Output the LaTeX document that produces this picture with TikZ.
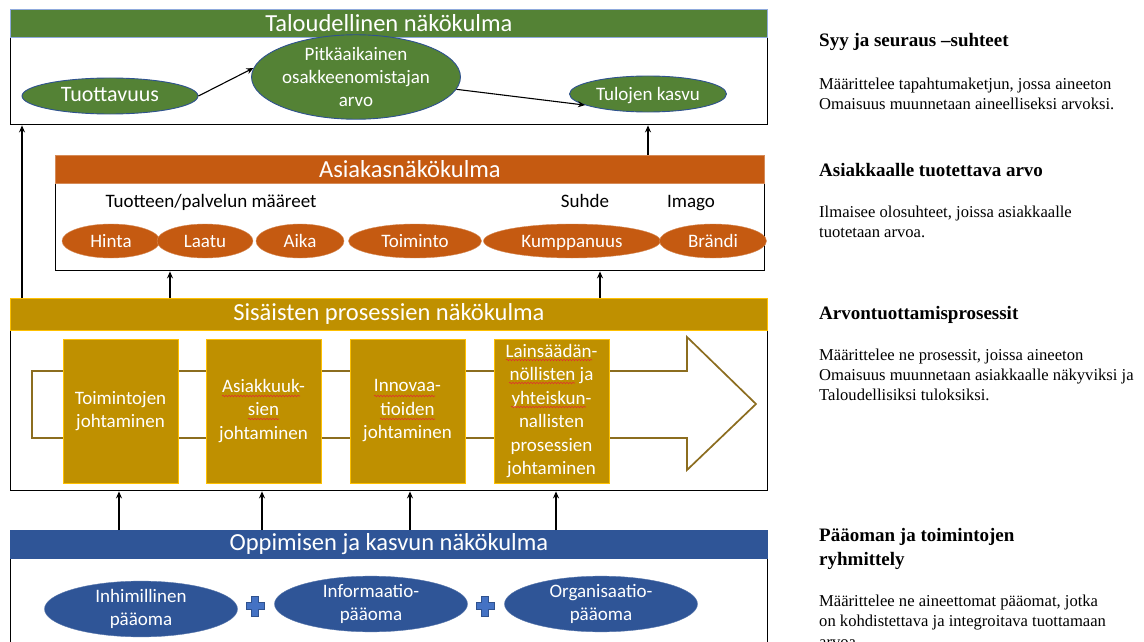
\documentclass[tikz,border=0pt]{standalone}
\usepackage{fontspec}
\setmainfont{Carlito}
\newfontfamily\notefont{Liberation Serif}
\usetikzlibrary{shapes.geometric,arrows.meta,decorations.pathmorphing}

\definecolor{finGreen}{HTML}{548235}
\definecolor{custOrange}{HTML}{C55A11}
\definecolor{procGold}{HTML}{BF9000}
\definecolor{learnBlue}{HTML}{2F5597}
\definecolor{hdrEdge}{HTML}{8FAADC}
\definecolor{ovalEdge}{HTML}{2F528F}
\definecolor{flowEdge}{HTML}{8C6D1F}
\definecolor{taskEdge}{HTML}{FFC000}
\definecolor{plusBlue}{HTML}{4472C4}
\definecolor{spellRed}{HTML}{E03030}

\tikzset{
  frame/.style={draw=black, line width=1.4pt, inner sep=0pt, anchor=north west},
  header/.style={draw=hdrEdge, line width=0.8pt, text=white, inner sep=0pt,
    anchor=north west, minimum width=757pt,
    font=\fontsize{24.5}{28}\selectfont},
  oval/.style={ellipse, inner sep=0pt, text=white, align=center,
    font=\fontsize{19}{23.2}\selectfont},
  oneline/.style={text height=17pt, text depth=4pt},
  greenoval/.style={oval, fill=finGreen, draw=ovalEdge, line width=0.9pt},
  orangeoval/.style={oval, oneline, fill=custOrange, draw=custOrange!70!white, line width=0.4pt,
    minimum height=34pt},
  blueoval/.style={oval, fill=learnBlue, draw=learnBlue!80!white, line width=0.4pt,
    minimum width=193pt, minimum height=54pt},
  taskbox/.style={fill=procGold, draw=taskEdge, line width=0.8pt, text=white,
    align=center, inner sep=0pt, minimum width=115pt, minimum height=144pt,
    font=\fontsize{19}{23.5}\selectfont},
  plain/.style={inner sep=0pt, anchor=base, font=\fontsize{19}{23}\selectfont},
  link/.style={-{Stealth[length=7pt,width=6pt]}, line width=1.1pt},
  squiggle/.style={draw=spellRed, line width=0.6pt,
    decorate, decoration={snake, amplitude=0.7pt, segment length=3pt}},
  notehead/.style={inner sep=0pt, anchor=base west, font=\notefont\bfseries\fontsize{19}{22}\selectfont},
  notetext/.style={inner sep=0pt, anchor=base west, font=\notefont\fontsize{16.6}{20}\selectfont},
}

\begin{document}
\begin{tikzpicture}[x=1pt, y=-1pt]
\useasboundingbox (0,0) rectangle (1144,642);
\fill[white] (0,0) rectangle (1144,642);

% ---------- Financial perspective ----------
\node[frame, minimum width=757pt, minimum height=115pt] (finBox) at (10,9) {};
\node[header, fill=finGreen, minimum height=28pt] (finHead) at (10,9) {Taloudellinen näkökulma};
\node[greenoval, minimum width=176pt, minimum height=36pt, text height=16pt, text depth=5pt,
      font=\fontsize{22}{26}\selectfont] (tuot) at (110,96) {Tuottavuus};
\node[greenoval, minimum width=203pt, minimum height=70pt] (pitka) at (356,77)
      {Pitkäaikainen\\osakkeenomistajan\\arvo};
\node[greenoval, oneline, minimum width=157pt, minimum height=36pt] (tulo) at (648,94) {Tulojen kasvu};
\draw[link] (tuot.east) -- (pitka.175);
\draw[link] (pitka.-7) -- (tulo.190);

% ---------- Customer perspective ----------
\node[frame, minimum width=709pt, minimum height=115pt] (custBox) at (55,155) {};
\node[header, fill=custOrange, draw=custOrange!70!white, minimum width=709pt,
      minimum height=28pt] (custHead) at (55,155) {Asiakasnäkökulma};
\node[plain] (attrLbl) at (211,207) {Tuotteen/palvelun määreet};
\node[plain] (relLbl) at (585,207) {Suhde};
\node[plain] (imgLbl) at (691,207) {Imago};
\node[orangeoval, minimum width=98pt] (hinta) at (111,241) {Hinta};
\node[orangeoval, minimum width=96pt] (laatu) at (205,241) {Laatu};
\node[orangeoval, minimum width=88pt] (aika) at (300,241) {Aika};
\node[orangeoval, minimum width=133pt] (toim) at (415,241) {Toiminto};
\node[orangeoval, minimum width=177pt] (kump) at (572,241) {Kumppanuus};
\node[orangeoval, minimum width=107pt] (brandi) at (713,241) {Brändi};

% ---------- Internal process perspective ----------
\node[frame, minimum width=757pt, minimum height=192pt] (procBox) at (10,298) {};
\node[header, fill=procGold, draw=taskEdge, minimum height=32pt] (procHead) at (10,298)
      {Sisäisten prosessien näkökulma};
% flow arrow behind the process boxes
\draw[flowEdge, line width=1.7pt, line join=miter]
  (32,371) -- (687,371) -- (687,337) -- (756,404) -- (687,470) -- (687,438) -- (32,438) -- cycle;
\node[taskbox] (task1) at (120.5,411) {Toimintojen\\johtaminen};
\node[taskbox] (task2) at (263.5,411) {Asiakkuuk-\\sien\\johtaminen};
\node[taskbox] (task3) at (407.5,411) {Innovaa-\\tioiden\\johtaminen};
\node[taskbox] (task4) at (551.5,411)
      {Lainsäädän-\\nöllisten ja\\yhteiskun-\\nallisten\\prosessien\\johtaminen};
% proofing marks under the hyphenated words
\draw[squiggle] (222,396) -- (300,396);
\draw[squiggle] (248,419) -- (279,419);
\draw[squiggle] (374,396) -- (435,396);
\draw[squiggle] (380,419) -- (435,419);
\draw[squiggle] (506,360) -- (592,360);
\draw[squiggle] (509,383) -- (575,383);
\draw[squiggle] (511,407) -- (586,407);

% ---------- Learning and growth perspective ----------
\node[frame, minimum width=757pt, minimum height=180pt] (learnBox) at (10,530) {};
\node[header, fill=learnBlue, draw=learnBlue, minimum height=28pt] (learnHead) at (10,530)
      {Oppimisen ja kasvun näkökulma};
\node[blueoval] (human) at (141,609) {Inhimillinen\\pääoma};
\node[blueoval] (info) at (371,604) {Informaatio-\\pääoma};
\node[blueoval] (org) at (601,604) {Organisaatio-\\pääoma};
\foreach \px in {255,485}{
  \filldraw[fill=plusBlue, draw=ovalEdge, line width=0.6pt]
    (\px-3.5,596) -- (\px+3.5,596) -- (\px+3.5,602.5) -- (\px+9,602.5) -- (\px+9,609.5)
    -- (\px+3.5,609.5) -- (\px+3.5,616) -- (\px-3.5,616) -- (\px-3.5,609.5) -- (\px-9,609.5)
    -- (\px-9,602.5) -- (\px-3.5,602.5) -- cycle;
}

% ---------- links between perspectives ----------
\coordinate (xFin) at (22,0);
\coordinate (xRev) at (648,0);
\coordinate (xC1) at (170,0);
\coordinate (xC2) at (600,0);
\coordinate (xL1) at (119,0);
\coordinate (xL2) at (262,0);
\coordinate (xL3) at (410,0);
\coordinate (xL4) at (556,0);
\draw[link] (procBox.north -| xFin) -- (finBox.south -| xFin);
\draw[link] (custBox.north -| xRev) -- (finBox.south -| xRev);
\draw[link] (procBox.north -| xC1) -- (custBox.south -| xC1);
\draw[link] (procBox.north -| xC2) -- (custBox.south -| xC2);
\foreach \c in {xL1,xL2,xL3,xL4}
  \draw[link] (learnBox.north -| \c) -- (procBox.south -| \c);

% ---------- notes on the right ----------
\node[notehead] (h1) at (819,47) {Syy ja seuraus –suhteet};
\node[notetext] (t1a) at (819,90) {Määrittelee tapahtumaketjun, jossa aineeton};
\node[notetext] (t1b) at (819,110) {Omaisuus muunnetaan aineelliseksi arvoksi.};
\node[notehead] (h2) at (819,176) {Asiakkaalle tuotettava arvo};
\node[notetext] (t2a) at (819,217) {Ilmaisee olosuhteet, joissa asiakkaalle};
\node[notetext] (t2b) at (819,237) {tuotetaan arvoa.};
\node[notehead] (h3) at (819,319) {Arvontuottamisprosessit};
\node[notetext] (t3a) at (819,360) {Määrittelee ne prosessit, joissa aineeton};
\node[notetext] (t3b) at (819,380) {Omaisuus muunnetaan asiakkaalle näkyviksi ja};
\node[notetext] (t3c) at (819,400) {Taloudellisiksi tuloksiksi.};
\node[notehead] (h4a) at (819,541) {Pääoman ja toimintojen};
\node[notehead] (h4b) at (819,565) {ryhmittely};
\node[notetext] (t4a) at (819,606) {Määrittelee ne aineettomat pääomat, jotka};
\node[notetext] (t4b) at (819,626) {on kohdistettava ja integroitava tuottamaan};
\node[notetext] (t4c) at (819,647) {arvoa.};
\end{tikzpicture}
\end{document}
